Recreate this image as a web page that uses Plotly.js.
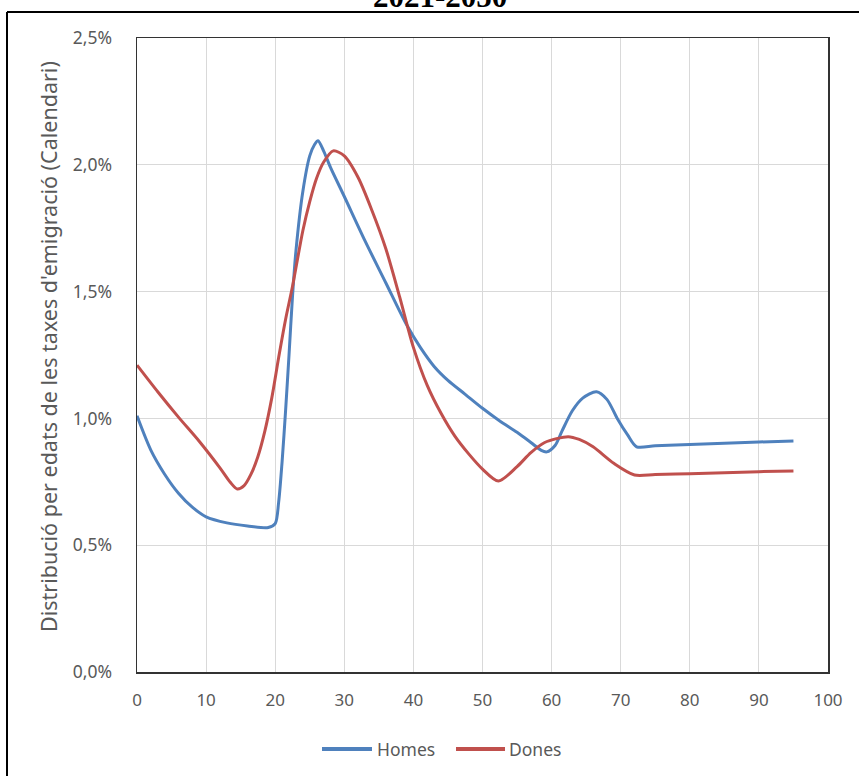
<!DOCTYPE html>
<html>
<head>
<meta charset="utf-8">
<script src="https://cdn.plot.ly/plotly-3.0.1.min.js"></script>
<style>html,body{margin:0;padding:0;background:#fff;}#chart{width:859px;height:776px;}</style>
</head>
<body>
<div id="chart"></div>
<script>
// Ages (years) and emigration-rate age distribution (%)
const homesAges = [0,2,4,6,8,10,13,16,19,20,20.5,21,21.5,22,22.5,23,24,25,25.7,26.2,27,28,30,33,36,39,41,43,45,47.5,50,52.5,55,57,58.5,59.3,60.5,61.5,63,64.5,66.5,68,69.5,71,72.3,75,80,90,95];
const homesVals = [1.01,0.875,0.78,0.705,0.65,0.612,0.588,0.576,0.57,0.585,0.67,0.83,1.03,1.25,1.48,1.66,1.895,2.035,2.08,2.095,2.055,1.99,1.875,1.70,1.535,1.37,1.28,1.205,1.15,1.095,1.04,0.99,0.945,0.905,0.874,0.868,0.893,0.95,1.03,1.08,1.105,1.075,1.0,0.935,0.888,0.892,0.897,0.907,0.911];

const donesAges = [0,3,6,9,12,13.5,14.5,15.5,16.5,17.5,18.5,19.5,20.5,21.5,22.5,24,25,26,27,28.4,30,32,34,36,38,40,42,44,46,48,50,52.3,55,57,59,62.4,64,66,69,72,75,80,90,95];
const donesVals = [1.21,1.105,1.005,0.91,0.805,0.748,0.722,0.735,0.78,0.85,0.95,1.08,1.24,1.39,1.52,1.74,1.855,1.948,2.01,2.055,2.035,1.95,1.82,1.67,1.48,1.28,1.13,1.02,0.93,0.86,0.8,0.753,0.81,0.865,0.905,0.928,0.917,0.888,0.823,0.777,0.779,0.782,0.79,0.793];

const seriesNames = ['Homes','Dones'];
const seriesColors = ['#4f81bd','#c0504d'];
const xTicks = [0,10,20,30,40,50,60,70,80,90,100];
const yTicks = [0,0.5,1,1.5,2,2.5];
const yTickText = ['0,0%','0,5%','1,0%','1,5%','2,0%','2,5%'];
const titleText = '2021-2050';
const yTitle = "Distribució per edats de les taxes d'emigració (Calendari)";

const grey = '#595959';
const fontFam = '"Noto Sans", "Open Sans", sans-serif';

const traces = [
  {x: homesAges, y: homesVals, name: seriesNames[0], type:'scatter', mode:'lines',
   line:{color:seriesColors[0], width:3, shape:'spline', smoothing:0.8}, showlegend:false},
  {x: donesAges, y: donesVals, name: seriesNames[1], type:'scatter', mode:'lines',
   line:{color:seriesColors[1], width:3, shape:'spline', smoothing:0.8}, showlegend:false}
];

const L = 137, R = 828, T = 38, B = 672;
const W = 859, H = 776;
const pw = R - L, ph = B - T;
const px = v => (v - L) / pw;      // pixel x -> paper x
const py = v => (B - v) / ph;      // pixel y -> paper y

// manual legend (pixel positions)
const legY = 749;
const legItems = [
  {x0: 322, x1: 372, tx: 376},
  {x0: 456, x1: 505, tx: 508}
];

const shapes = [
  {type:'line', xref:'paper', yref:'paper', x0:px(7), x1:px(W + 5), y0:py(12), y1:py(12), line:{color:'#000', width:2}},
  {type:'line', xref:'paper', yref:'paper', x0:px(7), x1:px(7), y0:py(12), y1:py(H + 5), line:{color:'#000', width:2}}
];
const annotations = [
  {text:'<b>' + titleText + '</b>', xref:'paper', yref:'paper', x:px(440), y:py(16), xanchor:'center', yanchor:'bottom',
   showarrow:false, font:{family:'Liberation Serif, DejaVu Serif, serif', size:31, color:'#000'}},
  {text: yTitle, xref:'paper', yref:'paper', x:px(48), y:py(347), xanchor:'center', yanchor:'middle', textangle:-90,
   showarrow:false, font:{size:21.5, color:grey}}
];
legItems.forEach((it, i) => {
  shapes.push({type:'line', xref:'paper', yref:'paper', x0:px(it.x0), x1:px(it.x1), y0:py(legY), y1:py(legY),
               line:{color:seriesColors[i], width:4}});
  annotations.push({text: seriesNames[i], xref:'paper', yref:'paper', x:px(it.tx), y:py(legY), xanchor:'left', yanchor:'middle',
                    showarrow:false, font:{size:17.5, color:grey}, borderpad:0});
});

const layout = {
  width: W, height: H,
  margin: {l: L, r: W - R, t: T, b: H - B, pad: 0},
  paper_bgcolor: '#fff', plot_bgcolor: '#fff',
  font: {family: fontFam, color: grey, size: 17},
  xaxis: {range:[0,100], tickvals:xTicks, ticks:'', showgrid:true,
          gridcolor:'#d9d9d9', gridwidth:1, zeroline:false, showline:true, linecolor:'#333', linewidth:1.5,
          mirror:true, tickfont:{size:17, color:grey}, ticklabelstandoff: 12},
  yaxis: {range:[0,2.5], tickvals:yTicks, ticktext:yTickText, ticks:'',
          showgrid:true, gridcolor:'#d9d9d9', gridwidth:1, zeroline:false, showline:true, linecolor:'#333',
          linewidth:1.5, mirror:true, tickfont:{size:17.5, color:grey}, ticklabelstandoff: 20},
  showlegend: false,
  shapes: shapes,
  annotations: annotations
};

Plotly.newPlot('chart', traces, layout, {displayModeBar:false, staticPlot:true});
</script>
</body>
</html>
